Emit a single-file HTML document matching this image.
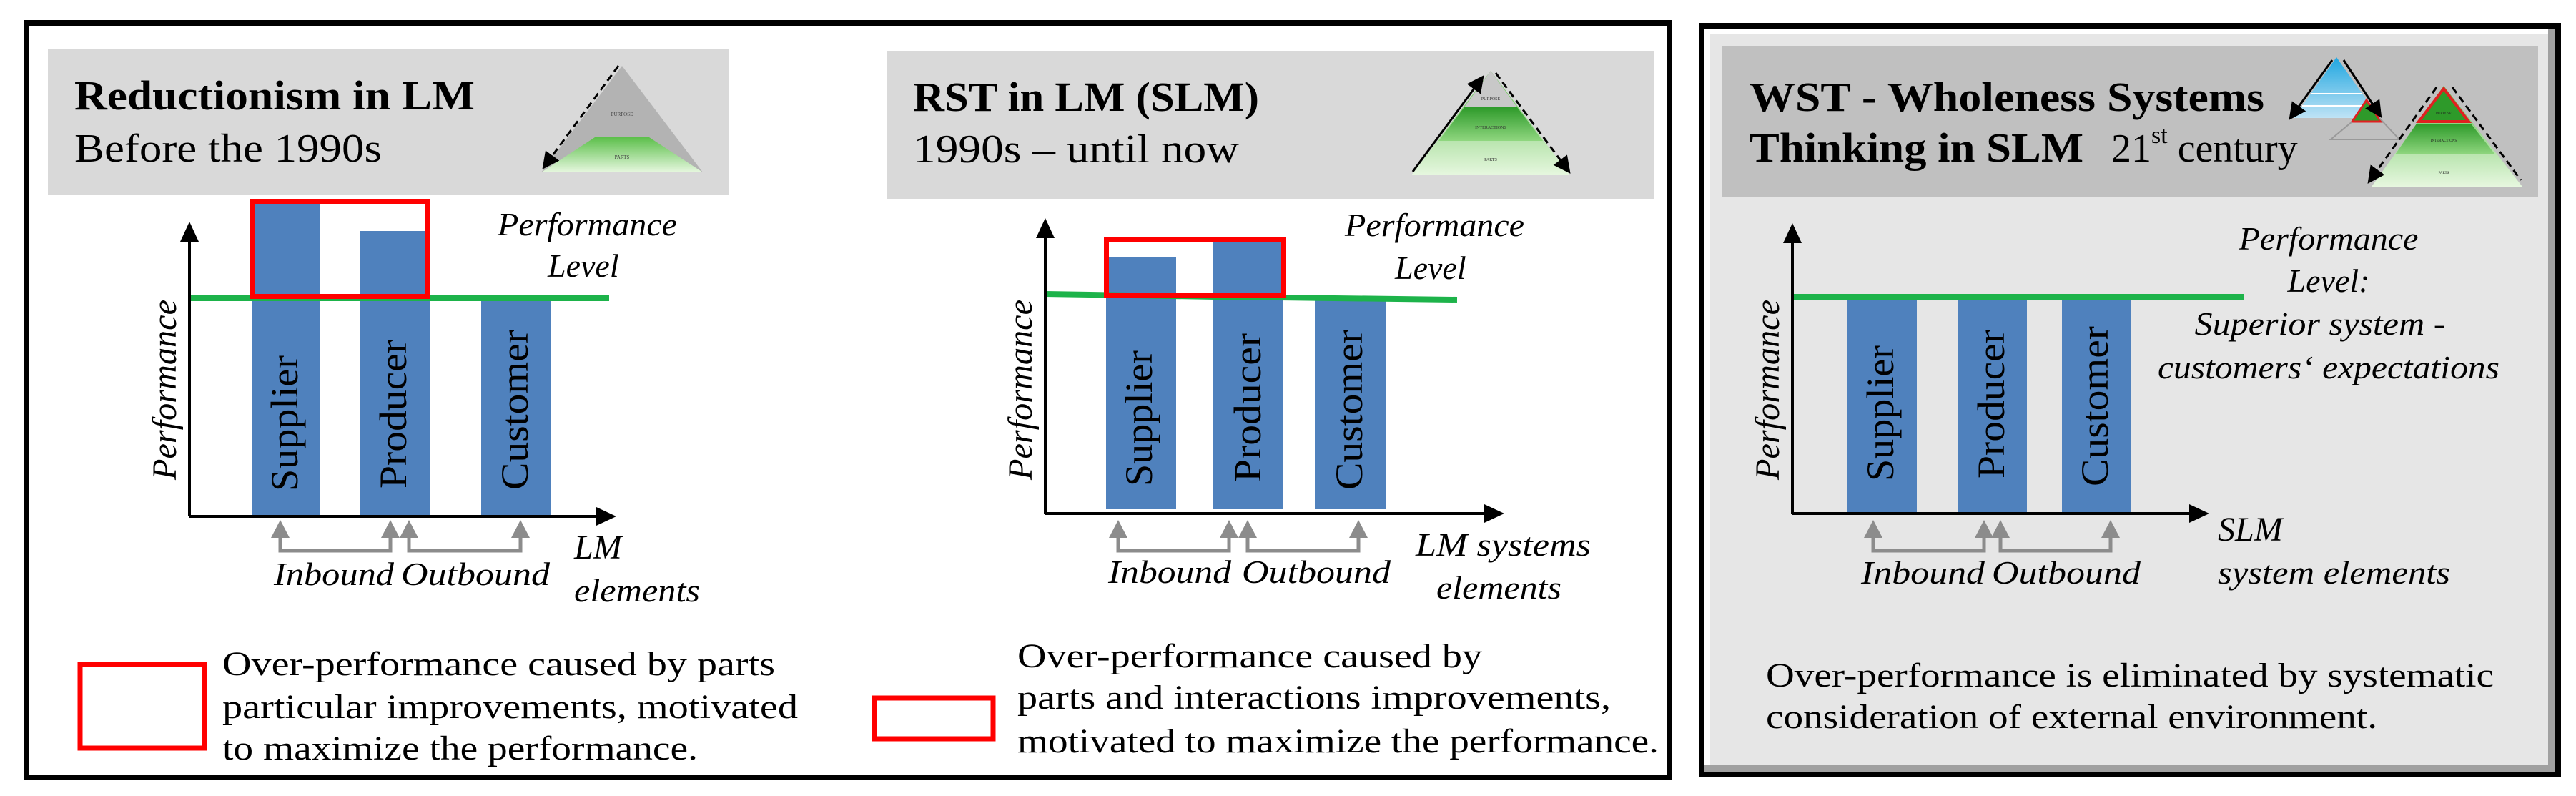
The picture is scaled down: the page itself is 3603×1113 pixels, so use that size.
<!DOCTYPE html>
<html><head><meta charset="utf-8"><style>html,body{margin:0;padding:0;background:#fff}svg{display:block}</style></head>
<body>
<svg width="3603" height="1113" viewBox="0 0 3603 1113" xmlns="http://www.w3.org/2000/svg" font-family="Liberation Serif, serif">
<defs>
<linearGradient id="gg" x1="0" y1="0" x2="0" y2="1"><stop offset="0" stop-color="#5cbf4a"/><stop offset="1" stop-color="#e6f7df"/></linearGradient>
<linearGradient id="dg" x1="0" y1="0" x2="0" y2="1"><stop offset="0" stop-color="#2e9a2a"/><stop offset="1" stop-color="#8fd67f"/></linearGradient>
<linearGradient id="bg" x1="0" y1="0" x2="0" y2="1"><stop offset="0" stop-color="#1fa6e0"/><stop offset="1" stop-color="#bfe3f5"/></linearGradient>
<marker id="ah" markerWidth="8" markerHeight="8" refX="6" refY="4" orient="auto" markerUnits="strokeWidth"><path d="M0,0 L8,4 L0,8 z" fill="#000"/></marker>
</defs>

<!-- Panel 1+2 outer border -->
<rect x="37" y="32" width="2298" height="1055" fill="#fff" stroke="#000" stroke-width="8"/>
<line x1="1187" y1="32" x2="1187" y2="32" stroke="none"/>

<!-- ============ PANEL 1 ============ -->
<rect x="67" y="69" width="952" height="204" fill="#d9d9d9"/>
<text x="104" y="153" font-size="58" font-weight="bold" textLength="560" lengthAdjust="spacingAndGlyphs">Reductionism  in  LM</text>
<text x="104" y="226" font-size="56" textLength="430" lengthAdjust="spacingAndGlyphs">Before the 1990s</text>
<!-- pyramid 1 -->
<polygon points="870,92 757,241 983,241" fill="#b3b3b3"/>
<polygon points="832,192 908,192 983,241 757,241" fill="url(#gg)"/>
<text x="870" y="162" font-size="7" text-anchor="middle" fill="#444">PURPOSE</text>
<text x="870" y="222" font-size="7" text-anchor="middle" fill="#444">PARTS</text>
<line x1="865" y1="92" x2="762" y2="232" stroke="#000" stroke-width="3" stroke-dasharray="10,6" marker-end="url(#ah)"/>

<!-- bars -->
<rect x="352" y="284" width="96" height="436" fill="#4f81bd"/>
<rect x="503" y="323" width="98" height="397" fill="#4f81bd"/>
<rect x="673" y="419" width="97" height="301" fill="#4f81bd"/>
<line x1="266" y1="417" x2="852" y2="417" stroke="#1db34a" stroke-width="8"/>
<rect x="353.5" y="281.5" width="245" height="133" fill="none" stroke="#ff0000" stroke-width="7"/>
<!-- axes -->
<line x1="265" y1="722" x2="265" y2="335" stroke="#000" stroke-width="4"/>
<polygon points="265,310 252,338 278,338" fill="#000"/>
<line x1="265" y1="722" x2="838" y2="722" stroke="#000" stroke-width="4"/>
<polygon points="862,722 834,709 834,735" fill="#000"/>
<text transform="translate(246,545) rotate(-90)" font-size="48" font-style="italic" text-anchor="middle" textLength="252" lengthAdjust="spacingAndGlyphs">Performance</text>
<text transform="translate(416,592) rotate(-90)" font-size="54" text-anchor="middle" textLength="190" lengthAdjust="spacingAndGlyphs">Supplier</text>
<text transform="translate(568,579) rotate(-90)" font-size="54" text-anchor="middle" textLength="208" lengthAdjust="spacingAndGlyphs">Producer</text>
<text transform="translate(738,573) rotate(-90)" font-size="54" text-anchor="middle" textLength="224" lengthAdjust="spacingAndGlyphs">Customer</text>
<text x="696" y="329" font-size="46" font-style="italic" textLength="251" lengthAdjust="spacingAndGlyphs">Performance</text>
<text x="766" y="387" font-size="46" font-style="italic">Level</text>
<!-- gray arrows -->
<g stroke="#8c8c8c" stroke-width="5" fill="none">
<polyline points="392,748 392,770 546,770 546,748"/>
<polyline points="572,748 572,770 728,770 728,748"/>
</g>
<g fill="#8c8c8c">
<polygon points="392,727 379,752 405,752"/><polygon points="546,727 533,752 559,752"/>
<polygon points="572,727 559,752 585,752"/><polygon points="728,727 715,752 741,752"/>
</g>
<text x="383" y="818" font-size="46" font-style="italic" textLength="168" lengthAdjust="spacingAndGlyphs">Inbound</text>
<text x="561" y="818" font-size="46" font-style="italic" textLength="208" lengthAdjust="spacingAndGlyphs">Outbound</text>
<text x="803" y="781" font-size="48" font-style="italic">LM</text>
<text x="803" y="841" font-size="46" font-style="italic" textLength="176" lengthAdjust="spacingAndGlyphs">elements</text>
<!-- legend -->
<rect x="112" y="929" width="174" height="117" fill="none" stroke="#ff0000" stroke-width="7"/>
<text x="311" y="944" font-size="48" textLength="773" lengthAdjust="spacingAndGlyphs">Over-performance caused by parts</text>
<text x="311" y="1004" font-size="48" textLength="805" lengthAdjust="spacingAndGlyphs">particular improvements, motivated</text>
<text x="311" y="1062" font-size="48" textLength="665" lengthAdjust="spacingAndGlyphs">to maximize the performance.</text>

<!-- ============ PANEL 2 ============ -->
<rect x="1240" y="71" width="1073" height="207" fill="#d9d9d9"/>
<text x="1277" y="155" font-size="58" font-weight="bold" textLength="484" lengthAdjust="spacingAndGlyphs">RST in LM (SLM)</text>
<text x="1277" y="227" font-size="56" textLength="456" lengthAdjust="spacingAndGlyphs">1990s – until now</text>
<!-- pyramid 2 -->
<polygon points="2085,99 1974,245 2196,245" fill="url(#gg)"/>
<polygon points="2085,99 2048,150 2122,150" fill="#c8c8c8"/>
<polygon points="2048,150 2122,150 2158,197 2012,197" fill="url(#dg)"/>
<text x="2085" y="140" font-size="6" text-anchor="middle" fill="#333">PURPOSE</text>
<text x="2085" y="180" font-size="6" text-anchor="middle" fill="#333">INTERACTIONS</text>
<text x="2085" y="225" font-size="6" text-anchor="middle" fill="#333">PARTS</text>
<line x1="1976" y1="240" x2="2072" y2="110" stroke="#000" stroke-width="3" marker-end="url(#ah)"/>
<line x1="2092" y1="102" x2="2193" y2="238" stroke="#000" stroke-width="3" stroke-dasharray="10,6" marker-end="url(#ah)"/>
<!-- bars -->
<rect x="1547" y="360" width="98" height="352" fill="#4f81bd"/>
<rect x="1696" y="339" width="99" height="373" fill="#4f81bd"/>
<rect x="1839" y="419" width="99" height="293" fill="#4f81bd"/>
<polyline points="1462,411 1700,415 2038,419" fill="none" stroke="#1db34a" stroke-width="8"/>
<rect x="1547.5" y="334.5" width="248" height="78" fill="none" stroke="#ff0000" stroke-width="7"/>
<line x1="1462" y1="718" x2="1462" y2="330" stroke="#000" stroke-width="4"/>
<polygon points="1462,305 1449,333 1475,333" fill="#000"/>
<line x1="1462" y1="718" x2="2080" y2="718" stroke="#000" stroke-width="4"/>
<polygon points="2104,718 2076,705 2076,731" fill="#000"/>
<text transform="translate(1443,545) rotate(-90)" font-size="48" font-style="italic" text-anchor="middle" textLength="252" lengthAdjust="spacingAndGlyphs">Performance</text>
<text transform="translate(1611,585) rotate(-90)" font-size="54" text-anchor="middle" textLength="190" lengthAdjust="spacingAndGlyphs">Supplier</text>
<text transform="translate(1763,570) rotate(-90)" font-size="54" text-anchor="middle" textLength="208" lengthAdjust="spacingAndGlyphs">Producer</text>
<text transform="translate(1905,573) rotate(-90)" font-size="54" text-anchor="middle" textLength="224" lengthAdjust="spacingAndGlyphs">Customer</text>
<text x="1881" y="330" font-size="46" font-style="italic" textLength="251" lengthAdjust="spacingAndGlyphs">Performance</text>
<text x="1951" y="390" font-size="46" font-style="italic">Level</text>
<g stroke="#8c8c8c" stroke-width="5" fill="none">
<polyline points="1564,748 1564,770 1719,770 1719,748"/>
<polyline points="1745,748 1745,770 1900,770 1900,748"/>
</g>
<g fill="#8c8c8c">
<polygon points="1564,727 1551,752 1577,752"/><polygon points="1719,727 1706,752 1732,752"/>
<polygon points="1745,727 1732,752 1758,752"/><polygon points="1900,727 1887,752 1913,752"/>
</g>
<text x="1550" y="815" font-size="46" font-style="italic" textLength="172" lengthAdjust="spacingAndGlyphs">Inbound</text>
<text x="1737" y="815" font-size="46" font-style="italic" textLength="208" lengthAdjust="spacingAndGlyphs">Outbound</text>
<text x="1980" y="777" font-size="46" font-style="italic" textLength="245" lengthAdjust="spacingAndGlyphs">LM systems</text>
<text x="2009" y="837" font-size="46" font-style="italic" textLength="175" lengthAdjust="spacingAndGlyphs">elements</text>
<rect x="1223" y="976" width="166" height="57" fill="none" stroke="#ff0000" stroke-width="7"/>
<text x="1423" y="933" font-size="48" textLength="650" lengthAdjust="spacingAndGlyphs">Over-performance caused by</text>
<text x="1423" y="991" font-size="48" textLength="830" lengthAdjust="spacingAndGlyphs">parts and interactions improvements,</text>
<text x="1423" y="1052" font-size="48" textLength="897" lengthAdjust="spacingAndGlyphs">motivated to maximize the performance.</text>

<!-- ============ PANEL 3 ============ -->
<rect x="2376" y="32" width="1206" height="1055" fill="#000"/>
<rect x="2384" y="40" width="1190" height="1039" fill="#a0a0a0"/>
<rect x="2384" y="40" width="1180" height="1029" fill="#ffffff"/>
<rect x="2392" y="48" width="1172" height="1021" fill="#e6e6e6"/>
<rect x="2409" y="65" width="1141" height="210" fill="#c0c0c0"/>
<text x="2447" y="155" font-size="58" font-weight="bold" textLength="720" lengthAdjust="spacingAndGlyphs">WST - Wholeness  Systems</text>
<text x="2447" y="226" font-size="58" font-weight="bold" textLength="467" lengthAdjust="spacingAndGlyphs">Thinking  in  SLM</text>
<text x="2953" y="226" font-size="56">21<tspan font-size="34" dy="-26">st</tspan><tspan dy="26"> century</tspan></text>
<!-- small pyramid -->
<polygon points="3268,82 3310,188 3226,188" fill="none"/>
<polygon points="3268,80 3208,165 3328,165" fill="url(#bg)"/>
<line x1="3232" y1="131" x2="3304" y2="131" stroke="#fff" stroke-width="2"/>
<line x1="3220" y1="148" x2="3316" y2="148" stroke="#fff" stroke-width="2"/>
<polygon points="3310,140 3290,170 3330,170" fill="#2e9a2a" stroke="#e02020" stroke-width="3"/>
<polyline points="3328,165 3356,195 3260,195 3290,170" fill="none" stroke="#999" stroke-width="2"/>
<line x1="3262" y1="84" x2="3205" y2="163" stroke="#000" stroke-width="3" marker-end="url(#ah)"/>
<line x1="3278" y1="84" x2="3328" y2="160" stroke="#000" stroke-width="3" marker-end="url(#ah)"/>
<!-- big pyramid -->
<polygon points="3418,120 3317,261 3528,261" fill="url(#gg)"/>
<polygon points="3380,173 3456,173 3490,216 3350,216" fill="url(#dg)"/>
<polygon points="3418,124 3383,170 3453,170" fill="#2e9a2a" stroke="#e02020" stroke-width="4"/>
<text x="3418" y="160" font-size="5" text-anchor="middle" fill="#222">PURPOSE</text>
<text x="3418" y="198" font-size="5" text-anchor="middle" fill="#222">INTERACTIONS</text>
<text x="3418" y="243" font-size="5" text-anchor="middle" fill="#222">PARTS</text>
<line x1="3408" y1="122" x2="3315" y2="252" stroke="#000" stroke-width="3" stroke-dasharray="10,6" marker-end="url(#ah)"/>
<line x1="3430" y1="122" x2="3526" y2="252" stroke="#000" stroke-width="3" stroke-dasharray="10,6"/>
<!-- bars -->
<rect x="2584" y="417" width="97" height="300" fill="#4f81bd"/>
<rect x="2738" y="417" width="97" height="300" fill="#4f81bd"/>
<rect x="2884" y="417" width="97" height="300" fill="#4f81bd"/>
<line x1="2507" y1="415" x2="3138" y2="415" stroke="#1db34a" stroke-width="8"/>
<line x1="2507" y1="718" x2="2507" y2="337" stroke="#000" stroke-width="4"/>
<polygon points="2507,312 2494,340 2520,340" fill="#000"/>
<line x1="2507" y1="718" x2="3066" y2="718" stroke="#000" stroke-width="4"/>
<polygon points="3090,718 3062,705 3062,731" fill="#000"/>
<text transform="translate(2488,545) rotate(-90)" font-size="48" font-style="italic" text-anchor="middle" textLength="252" lengthAdjust="spacingAndGlyphs">Performance</text>
<text transform="translate(2648,578) rotate(-90)" font-size="54" text-anchor="middle" textLength="190" lengthAdjust="spacingAndGlyphs">Supplier</text>
<text transform="translate(2803,565) rotate(-90)" font-size="54" text-anchor="middle" textLength="208" lengthAdjust="spacingAndGlyphs">Producer</text>
<text transform="translate(2948,568) rotate(-90)" font-size="54" text-anchor="middle" textLength="224" lengthAdjust="spacingAndGlyphs">Customer</text>
<g font-size="46" font-style="italic" text-anchor="middle">
<text x="3257" y="349" textLength="251" lengthAdjust="spacingAndGlyphs">Performance</text>
<text x="3257" y="408">Level:</text>
<text x="3245" y="468" textLength="351" lengthAdjust="spacingAndGlyphs">Superior system -</text>
<text x="3257" y="529" textLength="478" lengthAdjust="spacingAndGlyphs">customers‘ expectations</text>
</g>
<g stroke="#8c8c8c" stroke-width="5" fill="none">
<polyline points="2620,748 2620,770 2775,770 2775,748"/>
<polyline points="2798,748 2798,770 2952,770 2952,748"/>
</g>
<g fill="#8c8c8c">
<polygon points="2620,727 2607,752 2633,752"/><polygon points="2775,727 2762,752 2788,752"/>
<polygon points="2798,727 2785,752 2811,752"/><polygon points="2952,727 2939,752 2965,752"/>
</g>
<text x="2603" y="816" font-size="46" font-style="italic" textLength="173" lengthAdjust="spacingAndGlyphs">Inbound</text>
<text x="2786" y="816" font-size="46" font-style="italic" textLength="208" lengthAdjust="spacingAndGlyphs">Outbound</text>
<text x="3102" y="756" font-size="48" font-style="italic">SLM</text>
<text x="3102" y="816" font-size="46" font-style="italic" textLength="325" lengthAdjust="spacingAndGlyphs">system elements</text>
<text x="2470" y="960" font-size="48" textLength="1018" lengthAdjust="spacingAndGlyphs">Over-performance is eliminated by systematic</text>
<text x="2470" y="1018" font-size="48" textLength="855" lengthAdjust="spacingAndGlyphs">consideration of external environment.</text>
</svg>
</body></html>
